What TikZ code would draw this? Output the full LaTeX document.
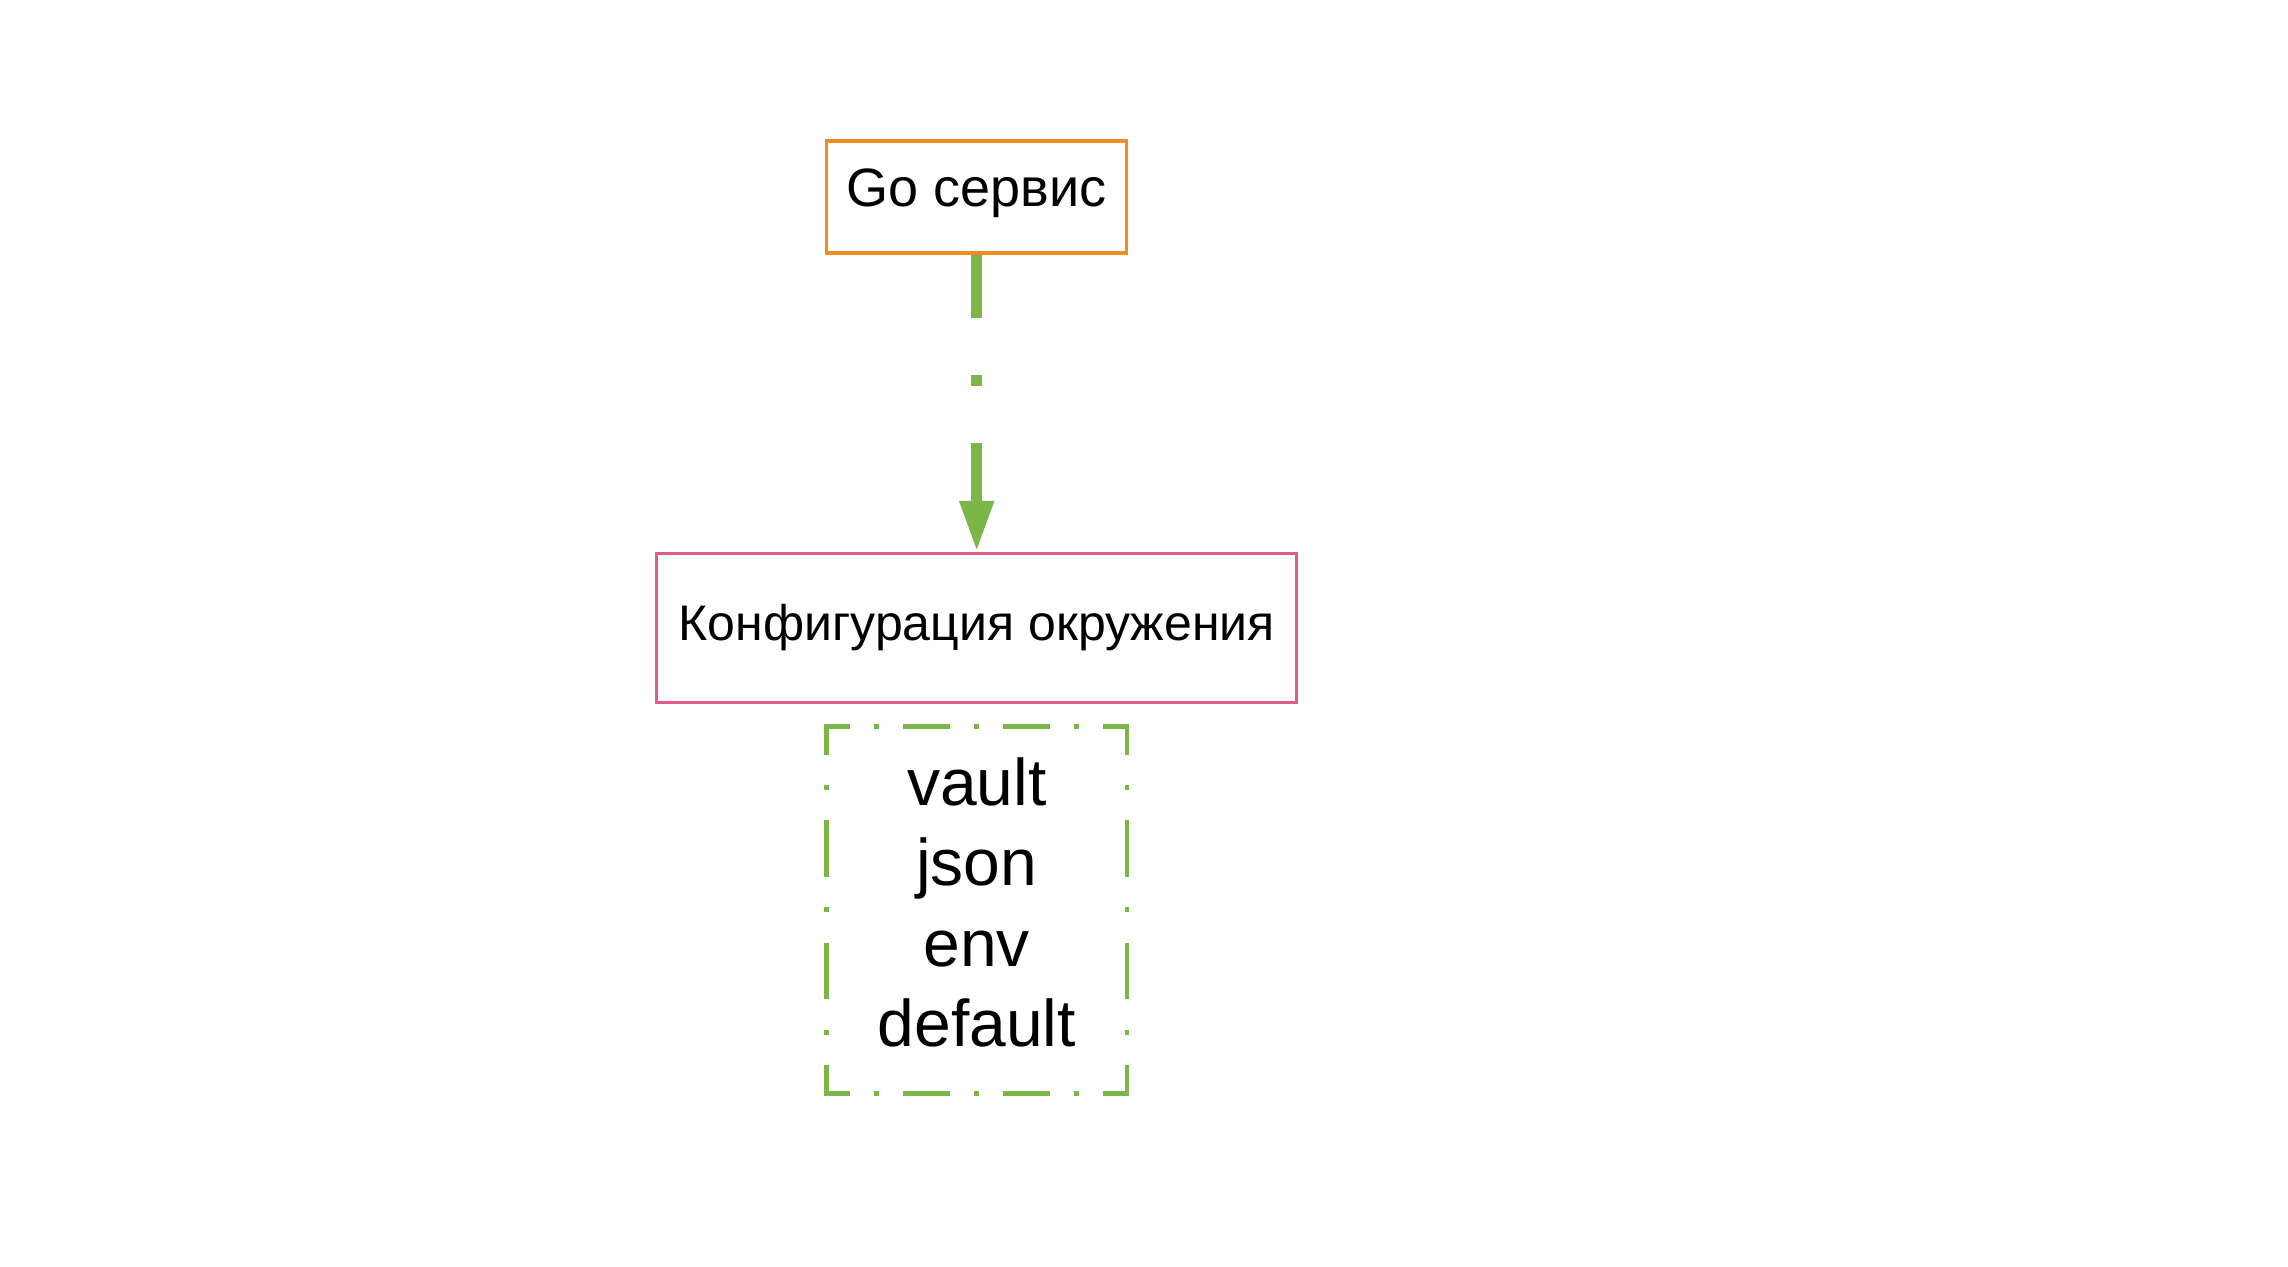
\documentclass[tikz,border=0pt]{standalone}
\usepackage{fontspec}
\setmainfont{Liberation Sans}
\usetikzlibrary{arrows.meta}
\definecolor{goorange}{RGB}{239,140,36}
\definecolor{confpink}{RGB}{224,92,134}
\definecolor{srcgreen}{RGB}{125,182,72}

\begin{document}
\begin{tikzpicture}[x=0.5pt,y=-0.5pt,
  box/.style={draw,rectangle,inner sep=0pt,line width=1.7pt},
  hside/.style={draw=srcgreen,line width=2.35pt,dash pattern=on 23.35pt off 12.075pt on 2.5pt off 12.075pt,dash phase=10.5pt,shorten <=-1.175pt,shorten >=-1.175pt},
  vside/.style={draw=srcgreen,line width=2.35pt,dash pattern=on 28.25pt off 15.2pt on 2.5pt off 15.2pt,dash phase=12.95pt,shorten <=-1.175pt,shorten >=-1.175pt}]
\useasboundingbox (0,0) rectangle (2288,1266);
\node[box,draw=goorange,minimum width=150pt,minimum height=56pt,text depth=9.5pt,font=\fontsize{27}{32.4}\selectfont] (go) at (976.7,197) {Go сервис};
\node[box,draw=confpink,minimum width=320pt,minimum height=74.5pt,font=\fontsize{25}{30}\selectfont] (conf) at (976.7,628) {Конфигурация окружения};
\node[inner sep=0pt,minimum width=150pt,minimum height=183.3pt] (frame) at (976.7,910) {};
\node[inner sep=0pt,align=center,font=\fontsize{33}{40.25}\selectfont] (src) at (976.7,902.5) {vault\\json\\env\\default};
\path[draw=srcgreen,line width=5.5pt,dash pattern=on 31.5pt off 28.75pt on 5.35pt off 28.75pt,-{Triangle[length=25.5pt,width=16pt]}] (go) -- (conf);
\draw[hside] (frame.north west) -- (frame.north east);
\draw[hside] (frame.south west) -- (frame.south east);
\draw[vside] (frame.north west) -- (frame.south west);
\draw[vside] (frame.north east) -- (frame.south east);
\end{tikzpicture}
\end{document}
